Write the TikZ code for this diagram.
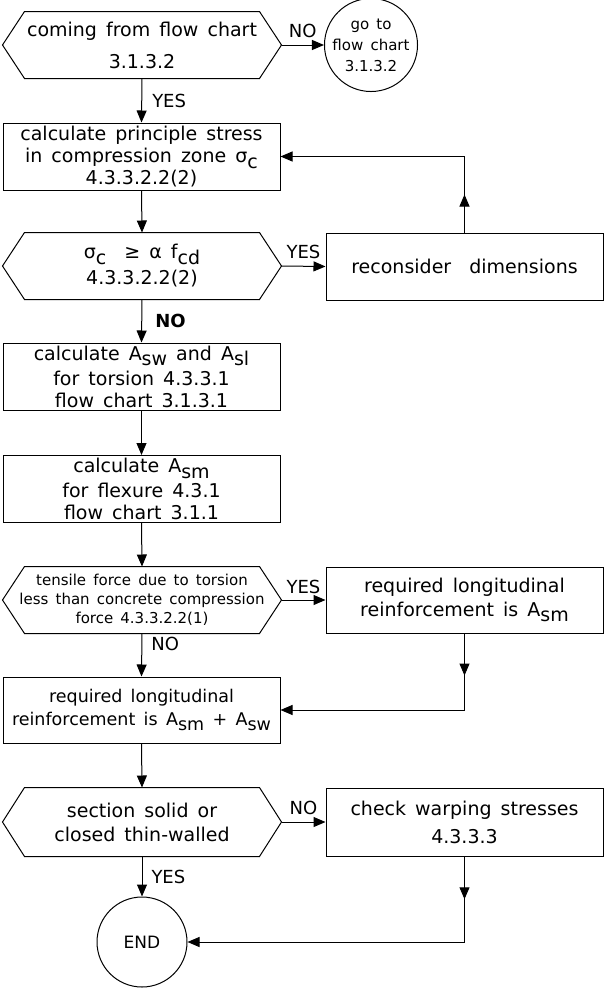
\documentclass[tikz,border=0pt]{standalone}
\usepackage{fontspec}
\setmainfont{DejaVu Sans}[WordSpace=1.5]
\usetikzlibrary{arrows.meta, decorations.markings}
\newcommand{\tief}[1]{\raisebox{-0.3em}{#1}}

\begin{document}
\begin{tikzpicture}[x=1pt, y=-1pt, line width=1pt,
				>={Triangle[length=12pt,width=10pt]},   %Pfeilspitzen
				kasten/.style={draw, rectangle, minimum width=277pt, minimum height=67pt, inner sep=1pt, align=center, font=\fontsize{19}{22}\selectfont},
				sechseck/.style={rectangle, minimum width=278pt, minimum height=66pt, inner sep=1pt, align=center, font=\fontsize{19}{22}\selectfont},
				rund/.style={draw, circle, minimum size=90pt, inner sep=0pt, align=center, font=\fontsize{15}{21}\selectfont},
				marke/.style={font=\fontsize{18}{18}\selectfont, inner sep=2pt},
				mitte/.style={postaction={decorate}, decoration={markings, mark=at position #1 with {\arrow{>}}}},
				mitte/.default=0.5]
				\useasboundingbox (0,0) rectangle (605,988);
				% Knoten
				\node[sechseck] (h1) at (142,45) {coming from flow chart\\[10pt]3.1.3.2};
				\node[rund] (ziel) at (371,45) {go to\\flow chart\\3.1.3.2};
				\node[kasten] (b1) at (141.5,156.5) {calculate principle stress\\in compression zone σ\tief{c}\\4.3.3.2.2(2)};
				\node[sechseck] (h2) at (142,266) {σ\tief{c} \ ≥ α f\tief{cd}\\[4pt]4.3.3.2.2(2)};
				\node[kasten] (dim) at (464.5,266.5) {reconsider \ dimensions};
				\node[kasten] (b3) at (141.5,376.5) {calculate A\tief{sw} and A\tief{sl}\\[3pt]for torsion 4.3.3.1\\flow chart 3.1.3.1};
				\node[kasten] (b4) at (141.5,489) {calculate A\tief{sm}\\[3pt]for flexure 4.3.1\\flow chart 3.1.1};
				\node[sechseck, font=\fontsize{15}{19}\selectfont] (h3) at (142,600) {tensile force due to torsion\\less than concrete compression\\force 4.3.3.2.2(1)};
				\node[kasten, minimum height=66pt] (req1) at (464.5,600) {required longitudinal\\[2pt]reinforcement is A\tief{sm}};
				\node[kasten, minimum height=66pt, font=\fontsize{17.5}{22}\selectfont] (req2) at (141.5,710) {required longitudinal\\[1pt]reinforcement is A\tief{sm} + A\tief{sw}};
				\node[sechseck, minimum height=68pt] (h4) at (142,822) {section solid or\\[2pt]closed thin-walled};
				\node[kasten, minimum height=68pt] (warp) at (464.5,822) {check warping stresses\\[6pt]4.3.3.3};
				\node[rund, font=\fontsize{17}{17}\selectfont] (ende) at (142,942) {END};
				% Sechsecke zeichnen
				\foreach \h in {h1,h2,h3,h4}
					\draw (\h.west) -- ([xshift=22pt]\h.north west) -- ([xshift=-22pt]\h.north east) -- (\h.east) -- ([xshift=-22pt]\h.south east) -- ([xshift=22pt]\h.south west) -- cycle;
				% Verbindungen
				\draw[->] (h1.east) -- node[marke, above=5pt] {NO} (ziel.west);
				\draw[->] (h1.south) -- node[marke, right=8pt] {YES} (b1.north);
				\draw[->] (b1.south) -- (h2.north);
				\draw[->] (h2.east) -- node[marke, above=5pt] {YES} (dim.west);
				\coordinate (k1) at (dim.north |- b1.east);
				\draw[->] (dim.north) |- (b1.east);
				\draw[mitte] (dim.north) -- (k1);
				\draw[->] (h2.south) -- node[marke, right=11pt] {\bfseries NO} (b3.north);
				\draw[->] (b3.south) -- (b4.north);
				\draw[->] (b4.south) -- (h3.north);
				\draw[->] (h3.east) -- node[marke, above=4pt] {YES} (req1.west);
				\draw[->] (h3.south) -- node[marke, pos=0.25, right=7pt] {NO} (req2.north);
				\coordinate (k2) at (req1.south |- req2.east);
				\draw[->] (req1.south) |- (req2.east);
				\draw[mitte=0.55] (req1.south) -- (k2);
				\draw[->] (req2.south) -- (h4.north);
				\draw[->] (h4.east) -- node[marke, above=5pt] {NO} (warp.west);
				\draw[->] (h4.south) -- node[marke, right=7pt] {YES} (ende.north);
				\coordinate (k3) at (warp.south |- ende.east);
				\draw[->] (warp.south) |- (ende.east);
				\draw[mitte] (warp.south) -- (k3);
			\end{tikzpicture}
\end{document}
